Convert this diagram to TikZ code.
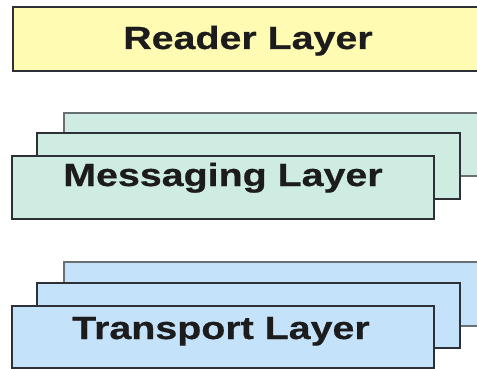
\documentclass[tikz,border=0pt]{standalone}
\usepackage{fontspec}
\newfontfamily\lab[FakeStretch=1.23,FakeBold=0.6]{Liberation Sans}
\definecolor{readerfill}{RGB}{255,251,178}
\definecolor{msgfill}{RGB}{206,236,226}
\definecolor{trfill}{RGB}{196,226,250}
\definecolor{boxline}{RGB}{45,48,55}
\definecolor{backline}{RGB}{105,112,115}
\definecolor{textcol}{RGB}{28,28,28}
\begin{document}
\begin{tikzpicture}[x=1pt,y=-1pt]
\tikzset{
  layerbox/.style={draw=boxline, line width=1.6pt},
  backbox/.style={draw=backline, line width=1.3pt},
  layertext/.style={inner sep=0pt, anchor=base, text=textcol, font=\lab\bfseries\fontsize{32}{38}\selectfont}
}
\useasboundingbox (0,0) rectangle (477,369);
\fill[white] (0,0) rectangle (477,369);
\clip (0,0) rectangle (477,369);
% Reader layer
\node[layerbox, fill=readerfill, minimum width=470pt, minimum height=64pt, inner sep=0pt] (reader) at (248,39) {};
\node[layertext] (readertxt) at (248,49) {Reader Layer};
% Messaging stack
\node[backbox, fill=msgfill, minimum width=426pt, minimum height=63pt, inner sep=0pt] (msgback) at (277,144.5) {};
\node[layerbox, fill=msgfill, minimum width=423pt, minimum height=66pt, inner sep=0pt] (msgmid) at (248.5,166) {};
\node[layerbox, fill=msgfill, minimum width=422pt, minimum height=63pt, inner sep=0pt] (msgfront) at (223,187.5) {};
\node[layertext] (msgtxt) at (223,186) {Messaging Layer};
% Transport stack
\node[backbox, fill=trfill, minimum width=426pt, minimum height=64pt, inner sep=0pt] (trback) at (277,294) {};
\node[layerbox, fill=trfill, minimum width=423pt, minimum height=65pt, inner sep=0pt] (trmid) at (248.5,315.5) {};
\node[layerbox, fill=trfill, minimum width=422pt, minimum height=62pt, inner sep=0pt] (trfront) at (223,337) {};
\node[layertext] (trtxt) at (221,339) {Transport Layer};
\end{tikzpicture}
\end{document}
